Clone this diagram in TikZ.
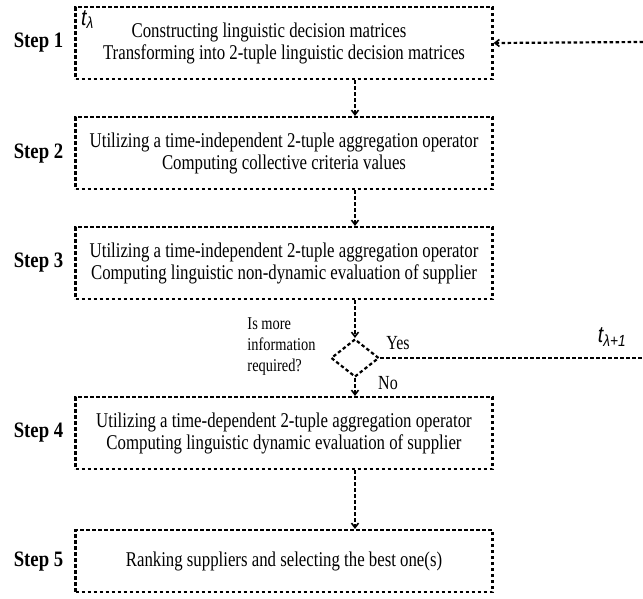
\documentclass[tikz,border=0pt]{standalone}
\usepackage{fontspec}
\setmainfont{Liberation Serif}[FakeStretch=0.8]
\newfontfamily\stepfont{Liberation Serif}[FakeStretch=0.85]
\newfontfamily\tfont{Liberation Sans}[FakeStretch=0.85]
\usetikzlibrary{shapes.geometric,arrows.meta}

\begin{document}
\begin{tikzpicture}[x=1pt,y=-1pt]
  \tikzset{stepbox/.style={draw, line width=2.2pt, dash pattern=on 3.5pt off 2.5pt,
             minimum width=417pt, align=center, font=\fontsize{21}{22}\selectfont},
           steplabel/.style={font=\stepfont\bfseries\fontsize{22}{24}\selectfont},
           dotted line/.style={line width=2.2pt, dash pattern=on 3.5pt off 2.5pt},
           arr/.style={dotted line, -{Straight Barb[length=4.5pt,width=7pt,line width=1.6pt]}}}
  \useasboundingbox (0,0) rectangle (643,598);
    % the boxes
    \node[stepbox, minimum height=72pt] (box1) at (284,43)
      {Constructing linguistic decision matrices\hspace*{30pt}\\
       Transforming into 2-tuple linguistic decision matrices};
    \node[stepbox, minimum height=72pt] (box2) at (284,153)
      {Utilizing a time-independent 2-tuple aggregation operator\\
       Computing collective criteria values};
    \node[stepbox, minimum height=72pt] (box3) at (284,263)
      {Utilizing a time-independent 2-tuple aggregation operator\\
       Computing linguistic non-dynamic evaluation of supplier};
    \node[stepbox, minimum height=72pt] (box4) at (284,433)
      {Utilizing a time-dependent 2-tuple aggregation operator\\
       Computing linguistic dynamic evaluation of supplier};
    \node[stepbox, minimum height=62pt] (box5) at (284,561)
      {Ranking suppliers and selecting the best one(s)};
    \node[draw, dotted line, diamond, minimum width=48pt, minimum height=38pt,
          inner sep=0pt] (dec) at (355,358) {};
    % labels on the left
    \node[steplabel] (s1) at (38.5,43) {Step 1};
    \node[steplabel] (s2) at (38.5,154) {Step 2};
    \node[steplabel] (s3) at (38.5,263) {Step 3};
    \node[steplabel] (s4) at (38.5,433) {Step 4};
    \node[steplabel] (s5) at (38.5,562) {Step 5};
    \node[anchor=north west, inner sep=0pt, font=\tfont\itshape\fontsize{23}{25}\selectfont]
      (tl) at (81,10) {t\textsubscript{λ}};
    \node[anchor=east, align=left, font=\fontsize{18}{21}\selectfont] (q) at (319,347)
      {Is more\\information\\required?};
    \node[font=\fontsize{20}{22}\selectfont] (yes) at (398,343) {Yes};
    \node[font=\fontsize{20}{22}\selectfont] (no) at (388,383) {No};
    \node[font=\tfont\itshape\fontsize{23}{25}\selectfont] (tl1) at (612,337)
      {t\textsubscript{λ+1}};
    \coordinate (loopR) at (643,358);
    \coordinate (loopT) at (643,42);
    % connectors
    \draw[arr] (box1.south -| dec.center) -- (box2.north -| dec.center);
    \draw[arr] (box2.south -| dec.center) -- (box3.north -| dec.center);
    \draw[arr] (box3.south -| dec.center) -- (dec.north);
    \draw[arr] (dec.south) -- (box4.north -| dec.center);
    \draw[arr] (box4.south -| dec.center) -- (box5.north -| dec.center);
    \draw[dotted line] (dec.east) -- (loopR);
    \draw[arr] (loopT) -- (box1.east);
\end{tikzpicture}
\end{document}
